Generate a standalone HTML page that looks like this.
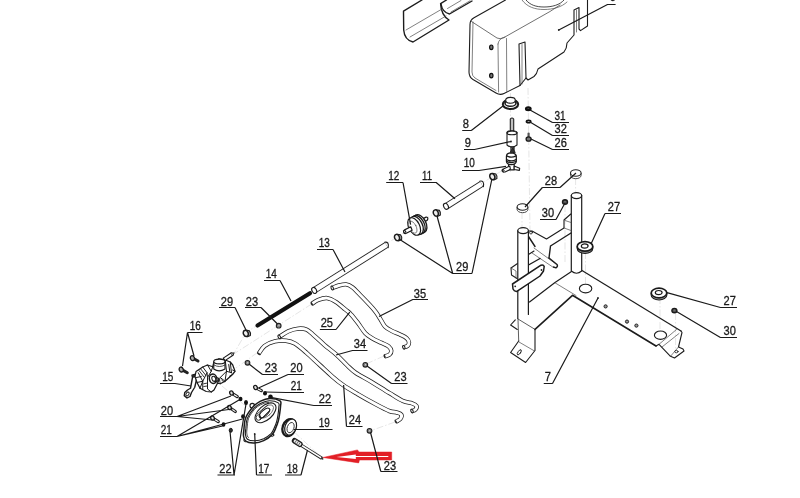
<!DOCTYPE html>
<html><head><meta charset="utf-8"><title>Parts diagram</title>
<style>
html,body{margin:0;padding:0;background:#fff;overflow:hidden}
svg{display:block}
text{font-family:"Liberation Sans",sans-serif;font-size:11.9px;fill:#1a1a1a;stroke:#1a1a1a;stroke-width:0.3px}
.k{fill:none;stroke:#1c1c1c;stroke-width:1.1;stroke-linejoin:round;stroke-linecap:round}
.kw{fill:#fff;stroke:#1c1c1c;stroke-width:1.1;stroke-linejoin:round;stroke-linecap:round}
.t{fill:none;stroke:#4a4a4a;stroke-width:0.7;stroke-linejoin:round;stroke-linecap:round}
.tw{fill:#fff;stroke:#555;stroke-width:0.7;stroke-linejoin:round}
.c{fill:none;stroke:#d4d4d4;stroke-width:0.6;stroke-dasharray:7 2 1.5 2}
.l{fill:none;stroke:#1a1a1a;stroke-width:1.2;stroke-linejoin:round}
.ho{fill:none;stroke:#222;stroke-width:4.4;stroke-linecap:butt;stroke-linejoin:round}
.hi{fill:none;stroke:#fff;stroke-width:2.9;stroke-linecap:butt;stroke-linejoin:round}
</style></head>
<body>
<svg width="800" height="498" viewBox="0 0 800 498">
<rect width="800" height="498" fill="#fff"/>
<!-- centre lines -->
<g id="centrelines">
<path class="c" d="M528,88L530,232"/>
<path class="c" d="M510.5,93V172"/>
<path class="c" d="M503,170L246,332.500L234.500,352.500"/>
<path class="c" d="M311.800,303.900L234.500,353.500"/>
<path class="c" d="M257.5,352.5L236,368"/>
<path class="c" d="M384,356L366,364"/>
<path class="c" d="M395,422L370,431"/>
<path class="c" d="M222,386L262,420L290,428L322,458"/>
<path class="c" d="M575.6,178V194"/>
<path class="c" d="M522,212V228"/>
<path class="c" d="M565,205V262"/>
<path class="c" d="M585.5,252V286"/>
<path class="c" d="M660,297V332"/>
<path class="c" d="M675.6,313V349"/>
</g>

<!-- top-left bracket -->
<g id="bracket">
<path class="k" style="stroke-width:1.4" d="M422,0L403.500,11.200L403.700,30Q404.500,40 413,42L449,20C444,17 441,12 440.600,3.600L446.500,0"/>
<path class="k" style="stroke-width:1.4" d="M441,4C442,10 445,13 449.5,14L472,1"/>
<path class="t" d="M406,30L442,9M410,37L446,16M447.500,8.500L461,0.500M451,12L470,0.800"/>
</g>

<!-- tank 6 -->
<g id="tank">
<path class="k" d="M505.500,0L474,17.800Q470,20 470,24.500L469,72Q469,77 473,79.500L496,93Q500,95.500 504,93.500L520,85.500L526,78L528,80L534,76.500Q537,74 538,69L564,52Q567,48 567,43L574,35L574,10L579,7.500L579,29L580.500,30.600L587.500,26L587.500,0"/>
<path class="k" d="M519,44L520,85.500M519,44L525,42L526,78"/>
<path class="t" style="stroke:#333" d="M471.500,21.500L497,38Q500,39.500 503.500,37.800L550,11.500L560,5"/>
<path class="t" d="M498,44L498.600,92"/>
<path class="t" d="M473,22L472,72Q472,76 475,78L496,90.500"/>
<path class="t" d="M506.500,38.500L506.800,91.500M498,44Q498.500,38.500 505,37"/>
<path class="k" style="stroke-width:0.8" d="M526,0C530,5 536,7 544,7C552,7 560,5 564,0"/>
<path class="t" d="M522,0C527,7 535,9.500 544,9.500C553,9.500 562,7 567,2"/>
<path class="t" d="M522,44.500L522,84M576.500,10L576.500,32"/>
<ellipse cx="491.300" cy="47.300" rx="1.700" ry="2.300" fill="#777" stroke="#111" stroke-width="1.200"/>
<ellipse cx="491.300" cy="75.600" rx="1.700" ry="2.300" fill="#777" stroke="#111" stroke-width="1.200"/>
</g>

<!-- grommet 8 -->
<g id="grommet">
<ellipse class="kw" style="stroke-width:2" cx="510.500" cy="104.300" rx="7.700" ry="4.700"/>
<ellipse class="k" style="stroke-width:1.600" cx="510.500" cy="103.200" rx="5.500" ry="3.100"/>
<ellipse class="kw" cx="510.500" cy="100.300" rx="4.800" ry="2.900"/>
</g>

<!-- washers, screw -->
<ellipse cx="528.300" cy="108.800" rx="2.300" ry="1.400" fill="#888" stroke="#111" stroke-width="2.2"/>
<ellipse cx="528.600" cy="121.500" rx="2.200" ry="1.300" fill="#aaa" stroke="#111" stroke-width="1.600"/>
<g id="screw26">
<path class="k" style="stroke-width:2.2;stroke:#555" d="M528.600,133.500V138"/>
<ellipse cx="528.600" cy="139" rx="2.500" ry="2.200" fill="#777" stroke="#1a1a1a" stroke-width="1.300"/>
</g>

<!-- filter 9 -->
<g id="filter9">
<path class="k" d="M510.300,133V119Q512,117 513.700,119V133"/>
<path class="t" d="M512,118.500V132"/>
<path class="kw" d="M507,132.500V145Q512,149 517,145V132.500Q512,129.500 507,132.500Z"/>
<ellipse class="k" cx="512" cy="132.800" rx="5" ry="2"/>
</g>

<!-- valve 10 -->
<g id="valve10" transform="translate(480,110) scale(0.14065)" fill="none" stroke="#1a1a1a" stroke-linejoin="round" stroke-linecap="round">
<path d="M222,262H243V304H222Z" fill="#444" stroke-width="6"/>
<path d="M214,300L232,272L250,300Z" fill="#333" stroke-width="5"/>
<path d="M203,383H243V426H203Z" fill="#fff" stroke-width="8"/>
<path d="M212,398L166,419Q154,428 160,438Q168,446 178,440L216,422Z" fill="#fff" stroke-width="8"/>
<ellipse cx="164" cy="430" rx="6" ry="10" stroke-width="5" transform="rotate(-30 164 430)"/>
<path d="M243,398L282,414L280,429L243,423Z" fill="#fff" stroke-width="8"/>
<path d="M188,330Q188,306 222,304Q258,306 258,330L258,362Q258,386 222,388Q188,386 188,362Z" fill="#fff" stroke-width="9"/>
<path d="M190,326Q222,344 256,326" stroke-width="9"/>
<path d="M189,352Q222,372 257,352M189,364Q222,384 257,364" stroke-width="9"/>
</g>

<!-- tube 11 -->
<g id="tube11">
<path class="ho" style="stroke-width:6.700" d="M446.200,206.300L481.500,184"/>
<path class="hi" style="stroke-width:4.900" d="M445.700,206.600L481.500,184"/>
<ellipse class="kw" cx="446" cy="206.300" rx="2.200" ry="3.200" transform="rotate(-30 446 206.300)"/>
<path class="k" d="M479.700,181.200Q484.500,180.200 483.400,186.600"/>
</g>

<!-- tube 13 -->
<g id="tube13">
<path class="ho" style="stroke-width:6.600" d="M314.300,290.300L386.300,245"/>
<path class="hi" style="stroke-width:4.800" d="M313.800,290.600L386.300,245"/>
<ellipse class="kw" cx="314.200" cy="290.400" rx="2.200" ry="3.200" transform="rotate(-30 314.200 290.400)"/>
<path class="k" d="M384.600,242.200Q389.300,241.300 388.200,247.600"/>
</g>

<!-- spring 14 -->
<path d="M257.500,325.500L310,293.300" stroke="#111" stroke-width="4.200" stroke-linecap="round" fill="none"/>

<!-- clamps 29 -->
<g id="clamps">
<g transform="translate(492.3,176.6)"><path d="M0.300,-3.300L3.600,-2.600Q5.300,-0.500 4.600,2L1.600,3.400Z" fill="#aaa" stroke="#1c1c1c" stroke-width="1.100" stroke-linejoin="round"/><ellipse cx="0" cy="0" rx="2.400" ry="3.200" fill="#eee" stroke="#1c1c1c" stroke-width="1.500" transform="rotate(-25)"/></g>
<g transform="translate(435.8,213)"><path d="M0.300,-3.300L3.600,-2.600Q5.300,-0.500 4.600,2L1.600,3.400Z" fill="#aaa" stroke="#1c1c1c" stroke-width="1.100" stroke-linejoin="round"/><ellipse cx="0" cy="0" rx="2.400" ry="3.200" fill="#eee" stroke="#1c1c1c" stroke-width="1.500" transform="rotate(-25)"/></g>
<g transform="translate(397,237.5)"><path d="M0.300,-3.300L3.600,-2.600Q5.300,-0.500 4.600,2L1.600,3.400Z" fill="#aaa" stroke="#1c1c1c" stroke-width="1.100" stroke-linejoin="round"/><ellipse cx="0" cy="0" rx="2.400" ry="3.200" fill="#eee" stroke="#1c1c1c" stroke-width="1.500" transform="rotate(-25)"/></g>
<g transform="translate(245.8,333.4)"><path d="M0.300,-3.300L3.600,-2.600Q5.300,-0.500 4.600,2L1.600,3.400Z" fill="#aaa" stroke="#1c1c1c" stroke-width="1.100" stroke-linejoin="round"/><ellipse cx="0" cy="0" rx="2.400" ry="3.200" fill="#eee" stroke="#1c1c1c" stroke-width="1.500" transform="rotate(-25)"/></g>
</g>

<!-- filter 12 -->
<g id="filter12" transform="translate(383.800,165.400) scale(0.17065)" fill="none" stroke="#1a1a1a" stroke-linejoin="round" stroke-linecap="round">
<path fill="#fff" stroke-width="7" d="M222,316L248,303Q258,302 258,313Q257,321 250,324L228,336Z"/>
<ellipse cx="213" cy="342" rx="34" ry="57" fill="#fff" stroke-width="8" transform="rotate(-27 213 342)"/>
<ellipse cx="203" cy="347" rx="34" ry="57" fill="#fff" stroke-width="8" transform="rotate(-27 203 347)"/>
<ellipse cx="192" cy="352" rx="34" ry="57" fill="#fff" stroke-width="8" transform="rotate(-27 192 352)"/>
<ellipse cx="178" cy="358" rx="32" ry="55" fill="#fff" stroke-width="7" transform="rotate(-27 178 358)"/>
<ellipse cx="170" cy="362" rx="20" ry="38" fill="#fff" stroke="#555" stroke-width="4" transform="rotate(-27 170 362)"/>
<path fill="#fff" stroke-width="7" d="M158,360L122,378Q112,386 118,396Q124,402 132,398L166,380Z"/>
<ellipse cx="122" cy="388" rx="6" ry="10" stroke-width="5" transform="rotate(-27 122 388)"/>
</g>

<!-- hoses -->
<g id="hoses">
<path class="ho" d="M332.2,288.0C333.3,287.6 336.6,286.1 338.9,285.5C341.2,284.9 343.9,284.1 346.1,284.4C348.4,284.7 350.1,285.6 352.4,287.3C354.7,289.0 356.8,291.6 359.7,294.5C362.6,297.4 366.9,301.9 369.6,304.8C372.3,307.7 374.1,309.7 375.9,312.1C377.7,314.5 379.0,316.9 380.5,319.3C382.0,321.7 383.1,324.5 385.0,326.5C386.9,328.5 389.6,329.7 392.2,331.1C394.8,332.5 398.0,333.5 400.4,334.7C402.8,335.9 405.3,337.0 406.7,338.3C408.1,339.6 408.9,341.0 409.0,342.3C409.1,343.6 408.5,345.1 407.6,345.9C406.7,346.7 404.4,347.1 403.8,347.3"/>
<path class="hi" d="M332.2,288.0C333.3,287.6 336.6,286.1 338.9,285.5C341.2,284.9 343.9,284.1 346.1,284.4C348.4,284.7 350.1,285.6 352.4,287.3C354.7,289.0 356.8,291.6 359.7,294.5C362.6,297.4 366.9,301.9 369.6,304.8C372.3,307.7 374.1,309.7 375.9,312.1C377.7,314.5 379.0,316.9 380.5,319.3C382.0,321.7 383.1,324.5 385.0,326.5C386.9,328.5 389.6,329.7 392.2,331.1C394.8,332.5 398.0,333.5 400.4,334.7C402.8,335.9 405.3,337.0 406.7,338.3C408.1,339.6 408.9,341.0 409.0,342.3C409.1,343.6 408.5,345.1 407.6,345.9C406.7,346.7 404.4,347.1 403.8,347.3"/>
<path class="ho" d="M311.8,303.9C312.9,303.2 315.6,301.0 318.1,300.0C320.7,299.0 324.1,297.8 327.1,298.1C330.1,298.5 333.2,300.2 336.2,302.1C339.2,304.0 342.8,307.4 345.2,309.4C347.6,311.4 348.5,311.6 350.6,313.9C352.7,316.1 355.5,319.7 357.9,322.9C360.3,326.1 362.7,330.3 365.1,332.9C367.5,335.5 369.6,336.6 372.3,338.3C375.0,340.0 378.7,341.5 381.4,342.8C384.1,344.1 387.0,345.0 388.6,346.4C390.2,347.8 391.2,349.5 391.3,350.9C391.4,352.3 390.6,353.7 389.5,354.6C388.4,355.5 385.4,356.1 384.6,356.4"/>
<path class="hi" d="M311.8,303.9C312.9,303.2 315.6,301.0 318.1,300.0C320.7,299.0 324.1,297.8 327.1,298.1C330.1,298.5 333.2,300.2 336.2,302.1C339.2,304.0 342.8,307.4 345.2,309.4C347.6,311.4 348.5,311.6 350.6,313.9C352.7,316.1 355.5,319.7 357.9,322.9C360.3,326.1 362.7,330.3 365.1,332.9C367.5,335.5 369.6,336.6 372.3,338.3C375.0,340.0 378.7,341.5 381.4,342.8C384.1,344.1 387.0,345.0 388.6,346.4C390.2,347.8 391.2,349.5 391.3,350.9C391.4,352.3 390.6,353.7 389.5,354.6C388.4,355.5 385.4,356.1 384.6,356.4"/>
<path class="ho" d="M279.3,336.9C280.8,336.0 285.1,332.7 288.3,331.3C291.5,329.9 295.4,328.9 298.4,328.6C301.4,328.3 303.9,328.5 306.3,329.5C308.7,330.5 310.0,332.1 313.0,334.6C316.0,337.2 320.4,341.4 324.3,344.8C328.2,348.2 332.9,351.5 336.6,354.9C340.4,358.3 343.6,362.0 346.8,365.0C350.0,368.0 351.7,370.1 355.8,372.9C359.9,375.7 365.9,378.5 371.5,381.9C377.1,385.3 384.2,389.9 389.5,393.1C394.8,396.3 399.2,399.3 403.0,401.0C406.8,402.7 409.8,402.5 412.0,403.3C414.2,404.1 415.9,404.9 416.5,406.0C417.1,407.1 416.1,408.8 415.4,409.6C414.6,410.5 412.6,410.9 412.0,411.1"/>
<path class="hi" d="M279.3,336.9C280.8,336.0 285.1,332.7 288.3,331.3C291.5,329.9 295.4,328.9 298.4,328.6C301.4,328.3 303.9,328.5 306.3,329.5C308.7,330.5 310.0,332.1 313.0,334.6C316.0,337.2 320.4,341.4 324.3,344.8C328.2,348.2 332.9,351.5 336.6,354.9C340.4,358.3 343.6,362.0 346.8,365.0C350.0,368.0 351.7,370.1 355.8,372.9C359.9,375.7 365.9,378.5 371.5,381.9C377.1,385.3 384.2,389.9 389.5,393.1C394.8,396.3 399.2,399.3 403.0,401.0C406.8,402.7 409.8,402.5 412.0,403.3C414.2,404.1 415.9,404.9 416.5,406.0C417.1,407.1 416.1,408.8 415.4,409.6C414.6,410.5 412.6,410.9 412.0,411.1"/>
<path class="ho" d="M258.6,353.8C259.6,352.5 261.9,348.0 264.6,345.9C267.3,343.8 271.2,342.3 274.8,341.4C278.4,340.5 282.6,340.3 286.0,340.7C289.4,341.1 291.6,341.6 295.0,343.6C298.4,345.6 302.2,349.0 306.3,352.6C310.4,356.2 315.5,361.1 319.8,365.0C324.1,368.9 328.2,372.9 332.1,376.3C336.0,379.7 339.1,382.3 343.4,385.3C347.7,388.3 352.6,391.1 358.0,394.3C363.4,397.5 370.8,401.6 376.0,404.4C381.2,407.2 386.1,409.8 389.5,411.1C392.9,412.4 394.4,411.7 396.3,412.3C398.2,412.9 400.5,413.4 401.2,414.5C401.9,415.6 401.2,417.8 400.3,419.0C399.4,420.2 396.6,421.2 395.8,421.7"/>
<path class="hi" d="M258.6,353.8C259.6,352.5 261.9,348.0 264.6,345.9C267.3,343.8 271.2,342.3 274.8,341.4C278.4,340.5 282.6,340.3 286.0,340.7C289.4,341.1 291.6,341.6 295.0,343.6C298.4,345.6 302.2,349.0 306.3,352.6C310.4,356.2 315.5,361.1 319.8,365.0C324.1,368.9 328.2,372.9 332.1,376.3C336.0,379.7 339.1,382.3 343.4,385.3C347.7,388.3 352.6,391.1 358.0,394.3C363.4,397.5 370.8,401.6 376.0,404.4C381.2,407.2 386.1,409.8 389.5,411.1C392.9,412.4 394.4,411.7 396.3,412.3C398.2,412.9 400.5,413.4 401.2,414.5C401.9,415.6 401.2,417.8 400.3,419.0C399.4,420.2 396.6,421.2 395.8,421.7"/>
<ellipse class="kw" cx="332.2" cy="288.0" rx="1.100" ry="2" transform="rotate(-20 332.2 288.0)"/>
<ellipse class="kw" cx="403.8" cy="347.3" rx="1.100" ry="1.900" transform="rotate(-20 403.8 347.3)"/>
<ellipse class="kw" cx="279.3" cy="336.9" rx="1.100" ry="2" transform="rotate(-32 279.3 336.9)"/>
<ellipse class="kw" cx="412.0" cy="411.1" rx="1.100" ry="1.900" transform="rotate(-24 412.0 411.1)"/>
<ellipse cx="311.8" cy="303.9" rx="0.900" ry="2" fill="#222" transform="rotate(-32 311.8 303.9)"/>
<ellipse cx="384.6" cy="356.4" rx="0.900" ry="2" fill="#222" transform="rotate(-20 384.6 356.4)"/>
<ellipse cx="258.6" cy="353.8" rx="0.900" ry="2" fill="#222" transform="rotate(-53 258.6 353.8)"/>
<ellipse cx="395.8" cy="421.7" rx="0.900" ry="2" fill="#222" transform="rotate(-31 395.8 421.7)"/>
</g>

<!-- nuts 23 -->
<g id="nuts23">
<g transform="translate(278.700,325.700)"><ellipse cx="0" cy="0" rx="2.300" ry="2.300" fill="#999" stroke="#222" stroke-width="1.200"/><ellipse cx="0.300" cy="0" rx="0.900" ry="1.100" fill="#fff" stroke="#333" stroke-width="0.500"/></g>
<g transform="translate(247.500,362.800)"><ellipse cx="0" cy="0" rx="2.300" ry="2.300" fill="#999" stroke="#222" stroke-width="1.200"/><ellipse cx="0.300" cy="0" rx="0.900" ry="1.100" fill="#fff" stroke="#333" stroke-width="0.500"/></g>
<g transform="translate(365.300,364.800)"><ellipse cx="0" cy="0" rx="2.300" ry="2.300" fill="#999" stroke="#222" stroke-width="1.200"/><ellipse cx="0.300" cy="0" rx="0.900" ry="1.100" fill="#fff" stroke="#333" stroke-width="0.500"/></g>
<g transform="translate(369.500,430.800)"><ellipse cx="0" cy="0" rx="2.300" ry="2.300" fill="#999" stroke="#222" stroke-width="1.200"/><ellipse cx="0.300" cy="0" rx="0.900" ry="1.100" fill="#fff" stroke="#333" stroke-width="0.500"/></g>
</g>

<!-- screws 20 / washers 21,22 -->
<g id="screws20">
<g transform="translate(255.500,387.500)"><path d="M0,0L5.800,3.200" stroke="#1a1a1a" stroke-width="3.100" stroke-linecap="round" fill="none"/><path d="M2.600,1.500L5.600,3.100" stroke="#fff" stroke-width="1.100" stroke-linecap="round" fill="none"/><ellipse cx="0" cy="0" rx="1.700" ry="2.200" fill="#ddd" stroke="#1a1a1a" stroke-width="1.300" transform="rotate(-25)"/></g>
<g transform="translate(231.500,393)"><path d="M0,0L5.800,3.600" stroke="#1a1a1a" stroke-width="3.100" stroke-linecap="round" fill="none"/><path d="M2.600,1.700L5.600,3.500" stroke="#fff" stroke-width="1.100" stroke-linecap="round" fill="none"/><ellipse cx="0" cy="0" rx="1.700" ry="2.200" fill="#ddd" stroke="#1a1a1a" stroke-width="1.300" transform="rotate(-25)"/></g>
<g transform="translate(229.500,407.500)"><path d="M0,0L5.800,4" stroke="#1a1a1a" stroke-width="3.100" stroke-linecap="round" fill="none"/><path d="M2.600,1.800L5.600,3.900" stroke="#fff" stroke-width="1.100" stroke-linecap="round" fill="none"/><ellipse cx="0" cy="0" rx="1.700" ry="2.200" fill="#ddd" stroke="#1a1a1a" stroke-width="1.300" transform="rotate(-25)"/></g>
<g transform="translate(212.500,418)"><path d="M0,0L5.800,3.600" stroke="#1a1a1a" stroke-width="3.100" stroke-linecap="round" fill="none"/><path d="M2.600,1.700L5.600,3.500" stroke="#fff" stroke-width="1.100" stroke-linecap="round" fill="none"/><ellipse cx="0" cy="0" rx="1.700" ry="2.200" fill="#ddd" stroke="#1a1a1a" stroke-width="1.300" transform="rotate(-25)"/></g>
<ellipse cx="265" cy="393.200" rx="2" ry="2.200" fill="#111"/>
<ellipse cx="270.500" cy="397" rx="2.300" ry="2.600" fill="#111"/>
<ellipse cx="240.500" cy="399" rx="2" ry="2.200" fill="#111"/>
<ellipse cx="246" cy="402.500" rx="2" ry="2.600" fill="#111"/>
<ellipse cx="243" cy="416.500" rx="1.900" ry="2.200" fill="#111"/>
<ellipse cx="223.500" cy="424.500" rx="1.900" ry="2.200" fill="#111"/>
<ellipse cx="230.800" cy="430.300" rx="1.600" ry="2" fill="#333" stroke="#111" stroke-width="0.9"/>
</g>

<!-- cover 17 -->
<g id="cover17">
<circle class="kw" cx="252.300" cy="405.700" r="2.300"/>
<circle class="kw" style="stroke-width:0.9" cx="272.300" cy="435" r="1.500"/>
<circle class="kw" style="stroke-width:0.9" cx="245.300" cy="440.300" r="1.500"/>
<path class="kw" style="stroke-width:1.500" d="M269.8,398.4C273.1,398.3 278.2,399.6 280.0,400.8C281.8,402.0 280.7,403.5 280.6,405.7C280.5,407.9 280.0,411.5 279.6,414.1C279.2,416.7 278.9,418.9 278.2,421.3C277.5,423.7 276.5,426.3 275.5,428.6C274.5,430.8 274.1,432.6 272.2,434.6C270.2,436.6 266.7,439.2 263.7,440.6C260.7,442.0 257.1,442.9 254.1,443.0C251.1,443.1 247.4,442.4 245.7,441.2C243.9,440.0 243.8,437.7 243.5,435.8C243.2,433.9 243.5,432.8 243.9,429.8C244.2,426.7 244.2,421.5 245.7,417.7C247.2,413.9 250.5,409.6 252.9,406.9C255.3,404.2 257.3,402.9 260.1,401.4C262.9,400.0 266.4,398.5 269.8,398.4Z"/>
<path class="k" style="stroke-width:1.100" d="M269.1,400.7C272.1,400.6 276.7,401.8 278.3,402.9C279.9,404.0 278.9,405.2 278.8,407.2C278.8,409.2 278.3,412.5 278.0,414.8C277.6,417.2 277.3,419.2 276.7,421.3C276.1,423.5 275.2,425.8 274.3,427.8C273.4,429.8 273.0,431.4 271.3,433.3C269.5,435.1 266.4,437.4 263.7,438.7C261.0,439.9 257.7,440.8 255.0,440.8C252.3,440.9 249.0,440.3 247.4,439.2C245.8,438.1 245.7,436.1 245.4,434.3C245.2,432.6 245.4,431.6 245.8,428.9C246.1,426.2 246.0,421.5 247.4,418.1C248.8,414.6 251.7,410.8 253.9,408.3C256.1,405.9 257.9,404.7 260.4,403.4C262.9,402.2 266.1,400.800 269.1,400.7Z"/>
<path class="k" style="stroke-width:0.8" d="M268.6,402.3C265.9,402.4 262.9,403.7 260.6,404.8C258.3,406 256.6,407.1 254.6,409.3C252.6,411.6 249.9,415.2 248.6,418.3C247.4,421.5 247.4,425.8 247.1,428.3C246.8,430.8 246.6,431.7 246.8,433.3C247.1,434.9 247.1,436.8 248.6,437.8"/>
<ellipse class="k" style="stroke-width:1.100" cx="265.500" cy="412.800" rx="7" ry="12.600" transform="rotate(48 265.500 412.800)"/>
<ellipse class="t" style="stroke:#444" cx="266.500" cy="411.500" rx="4.500" ry="8.500" transform="rotate(48 266.500 411.500)"/>
<ellipse class="k" style="stroke-width:1.100" cx="264.500" cy="413" rx="2.800" ry="6.500" transform="rotate(48 264.500 413)"/>
<ellipse class="k" style="stroke-width:0.8" cx="258.500" cy="417.500" rx="2.300" ry="2.800"/>
<path class="k" style="stroke-width:0.8" d="M257,414L268,405M260,420L270,410"/>
</g>

<!-- gear 19 -->
<g id="gear19">
<ellipse cx="289" cy="427.600" rx="6.300" ry="8.800" fill="#fff" stroke="#1a1a1a" stroke-width="2.300" transform="rotate(20 289 427.600)"/>
<ellipse cx="290.600" cy="427.100" rx="5.600" ry="8.300" fill="#fff" stroke="#1a1a1a" stroke-width="1.200" transform="rotate(20 290.600 427.100)"/>
<ellipse cx="290.600" cy="427.600" rx="3.300" ry="5.300" fill="none" stroke="#333" stroke-width="0.900" transform="rotate(20 290.600 427.600)"/>
</g>

<!-- shaft 18 -->
<g id="shaft18">
<path d="M299,443.800L322,458.300" stroke="#1a1a1a" stroke-width="3.200" fill="none"/>
<path d="M299,443.800L321.400,457.900" stroke="#fff" stroke-width="1.600" fill="none"/>
<path d="M294.600,440.800L299.800,444.200" stroke="#1a1a1a" stroke-width="5.600" stroke-linecap="round" fill="none"/>
<path d="M295.200,441.200L299.800,444.200" stroke="#e8e8e8" stroke-width="3.200" stroke-linecap="round" fill="none"/><path d="M294.500,443.300L297,439.600M296.300,444.500L298.800,440.800M298.100,445.700L300.600,442" stroke="#333" stroke-width="0.700" fill="none"/>
<ellipse cx="322.300" cy="458.400" rx="0.900" ry="1.500" fill="#333" transform="rotate(-30 322.300 458.400)"/>
</g>

<!-- red arrow -->
<path d="M322.800,457.500L357.500,449.900L359,452L391.700,452L391.700,460L359.500,460L358.700,462.900Z" fill="#e21f26" stroke="#e21f26" stroke-width="0.500" stroke-linejoin="round"/>
<path d="M336.500,457L355.800,454.400L355.800,456L388.300,456L388.300,457.100L355.800,457.100L355.800,459Z" fill="#fff"/>

<!-- bolts 16 -->
<g id="bolts16">
<g transform="translate(193,358.200)"><path d="M0,0L5,2.800" stroke="#222" stroke-width="3" stroke-linecap="round" fill="none"/><ellipse cx="-0.500" cy="-0.300" rx="2" ry="2.500" fill="#aaa" stroke="#1a1a1a" stroke-width="1.300" transform="rotate(-25)"/></g>
<g transform="translate(181.800,369.600)"><path d="M0,0L5.500,3.200" stroke="#222" stroke-width="3" stroke-linecap="round" fill="none"/><ellipse cx="-0.500" cy="-0.300" rx="2" ry="2.500" fill="#aaa" stroke="#1a1a1a" stroke-width="1.300" transform="rotate(-25)"/></g>
</g>

<!-- pump 15 -->
<g id="pump15" transform="translate(170,340) scale(0.125)" fill="none" stroke="#1a1a1a" stroke-linejoin="round" stroke-linecap="round">
<!-- lever -->
<path fill="#fff" stroke-width="11" d="M176,282L204,274L216,300L198,378L172,420L160,452L136,464L114,446L118,420L140,400L164,386L180,300Z"/>
<ellipse cx="140" cy="432" rx="11" ry="17" stroke-width="8" transform="rotate(35 140 432)"/>
<circle cx="191" cy="290" r="9" fill="#333" stroke-width="6"/>
<!-- body -->
<path fill="#fff" stroke-width="10" d="M208,252L262,216L300,200L342,214L350,182L392,150L442,160L482,176L502,200L520,250L500,276L440,330L402,350L380,346L352,400L330,416L290,412L240,386L216,340L200,292Z"/>
<path stroke-width="8" d="M262,216L296,262L300,300L300,392L330,416M300,200L330,250L300,300M342,214L330,250M216,340L262,330L296,262M226,262L262,330L262,396M240,386L262,330M212,300L250,292"/>
<path stroke-width="7" d="M232,244L272,296M246,232L286,282M270,350L296,345M270,372L298,368"/>
<!-- right block -->
<path stroke-width="8" d="M442,160L452,250L402,300L380,346M482,176L492,262M452,250L492,262M452,250L440,330M402,300L440,330M470,196L478,252M500,276L476,290"/>
<path stroke-width="7" d="M402,350L396,318L370,330M412,318L430,336M500,240L520,250"/>
<!-- cylinder -->
<path fill="#fff" stroke-width="9" d="M350,172L350,232Q392,262 440,232L440,172Z"/>
<ellipse cx="395" cy="172" rx="45" ry="19" fill="#fff" stroke-width="9"/>
<path stroke-width="6" d="M352,200Q394,226 440,200"/>
<!-- nozzle -->
<path fill="#fff" stroke-width="9" d="M426,145L491,102Q504,100 507,112Q508,118 504,122L440,165Z"/><path stroke-width="6" d="M486,106Q496,110 498,124"/>
<circle cx="511" cy="104" r="6" fill="#222" stroke="none"/>
<!-- shaft -->
<ellipse cx="345" cy="310" rx="30" ry="38" fill="#fff" stroke-width="12" transform="rotate(-15 345 310)"/>
<ellipse cx="350" cy="310" rx="15" ry="21" fill="#fff" stroke-width="8" transform="rotate(-15 350 310)"/>
<path stroke-width="8" d="M356,294L388,306M352,330L384,336M388,306Q394,320 384,336"/>
</g>

<!-- frame 7 -->
<g id="frame7">
<!-- plate -->
<path class="k" style="stroke-width:1.200" d="M582,270.500L681,331"/>
<path class="k" style="stroke-width:1.200" d="M571.500,271.500L555,282.500L529.500,302"/>
<path class="k" style="stroke-width:1.600" d="M535,329.400L572.500,295.300L656,346"/>
<path class="t" d="M555,282.800L576,295.500"/>
<ellipse class="k" style="stroke-width:1.100" cx="585.600" cy="288.600" rx="6.200" ry="4.300"/>
<ellipse class="k" style="stroke-width:1.100" cx="660.500" cy="335.200" rx="6.100" ry="4.200"/>
<circle cx="605.600" cy="306.400" r="1.600" fill="#999" stroke="#222" stroke-width="1"/>
<circle cx="627" cy="321.600" r="1.600" fill="#999" stroke="#222" stroke-width="1"/>
<circle cx="636.400" cy="325.600" r="1.600" fill="#999" stroke="#222" stroke-width="1"/>
<!-- right foot -->
<path class="k" d="M656,346L659,344.300L670.500,356.300L674.500,358L684,351L683,349L678.500,347L682,332.500L681,331"/>
<path class="t" d="M659,344.300L676.500,329.500M662,347L679,333.500M670.500,356.300L678.500,347"/>
<ellipse class="k" style="stroke-width:0.8" cx="676.400" cy="351.600" rx="1.700" ry="1.200"/>
<!-- left leg + foot -->
<path class="k" d="M535,329.400L535,350.500L525.600,362.500L510.600,352.500L518.700,341"/><path class="t" style="stroke:#333;stroke-width:0.8" d="M518,319L535,329.400M518.700,341L518,319"/>
<path class="t" d="M519,342L534.500,351"/>
<path class="k" d="M515.300,319.800L510.600,325L517.300,329.500"/>
<ellipse class="k" style="stroke-width:0.9" cx="519.300" cy="352.300" rx="1.300" ry="3" transform="rotate(35 519.300 352.300)"/>
<!-- tall right tube -->
<path class="kw" style="stroke-width:1.200" d="M571.300,195.600V271Q576.500,275.500 581.700,271V195.600Z"/>
<ellipse class="kw" style="stroke-width:1.200" cx="576.500" cy="195.600" rx="5.200" ry="3"/>
<!-- top bracket -->
<path class="k" d="M527.500,231L532,231L546.500,239L564,228V220L570.800,214"/>
<path class="k" style="stroke-width:1.400" d="M527.500,235L535,246.500M550.500,246L571,233M550.500,246L549,258"/>
<path class="t" d="M564,228L571,230.500M565,220.500L571,222.500"/>
<circle class="k" style="stroke-width:0.8" cx="531" cy="232.600" r="1.400"/>
<!-- upper flat bar -->
<path class="t" d="M534,248L556,264M532,253L553.500,267.500"/>
<path class="k" style="stroke-width:1.400" d="M549,258L557,264.500Q558.300,266.500 556,267.800L553.500,267"/>
<path class="k" d="M528.500,254.500L534,251"/>
<path class="k" style="stroke-width:1.400" d="M528.500,265L540,258.500"/>
<!-- block behind left tube -->
<path class="k" d="M517.500,263.500L511,268L511.500,275L517,278.500"/>
<path class="t" d="M511,268L516,271V278"/>
<!-- left tube -->
<path d="M517.800,230.600V318.500L528.400,314.500V230.600Z" fill="#fff" stroke="none"/>
<path class="k" style="stroke-width:1.200" d="M517.800,230.600V318.500M528.400,314.500V230.600"/>
<ellipse class="kw" style="stroke-width:1.200" cx="523.100" cy="230.600" rx="5.300" ry="3"/>
<!-- lower flat bar (in front) -->
<path class="kw" style="stroke-width:1.500" d="M512.500,284L541,265.200Q543.500,264.500 544.200,266.500L543.500,271L540,276L516.500,291.600Q514,291 513,289Z"/>
<circle cx="541.500" cy="270" r="0.900" fill="#222"/>
<circle cx="515.200" cy="286.300" r="0.900" fill="#222"/>
</g>

<!-- washers 27 -->
<g id="washers27">
<g transform="translate(585,246.400)"><path d="M-7.800,0V2.200A7.800,4.800 0 0 0 7.800,2.200V0" fill="#aaa" stroke="#1a1a1a" stroke-width="1.100"/><ellipse cx="0" cy="0" rx="7.800" ry="4.800" fill="#fff" stroke="#1a1a1a" stroke-width="1.700"/><ellipse cx="-0.300" cy="-0.400" rx="3.400" ry="2.100" fill="#fff" stroke="#1a1a1a" stroke-width="1.200"/></g>
<g transform="translate(659,293)"><path d="M-7.800,0V2.200A7.800,4.800 0 0 0 7.800,2.200V0" fill="#aaa" stroke="#1a1a1a" stroke-width="1.100"/><ellipse cx="0" cy="0" rx="7.800" ry="4.800" fill="#fff" stroke="#1a1a1a" stroke-width="1.700"/><ellipse cx="-0.300" cy="-0.400" rx="3.400" ry="2.100" fill="#fff" stroke="#1a1a1a" stroke-width="1.200"/></g>
</g>

<!-- caps 28 -->
<g id="caps28">
<g transform="translate(575.800,173)"><path d="M-5.300,0V2.400A5.300,3.300 0 0 0 5.300,2.400V0" fill="#fff" stroke="#333" stroke-width="0.9"/><ellipse cx="0" cy="0" rx="5.300" ry="3.300" fill="#fff" stroke="#222" stroke-width="1.100"/></g>
<g transform="translate(522.500,207)"><path d="M-5.400,0V2.400A5.400,3.300 0 0 0 5.400,2.400V0" fill="#fff" stroke="#333" stroke-width="0.9"/><ellipse cx="0" cy="0" rx="5.400" ry="3.300" fill="#fff" stroke="#222" stroke-width="1.100"/></g>
</g>

<!-- nuts 30 -->
<ellipse cx="565" cy="202" rx="2.500" ry="2.200" fill="#555" stroke="#1a1a1a" stroke-width="1.400"/>
<ellipse cx="565" cy="201.600" rx="0.800" ry="0.500" fill="#777"/>
<ellipse cx="674.400" cy="310.600" rx="2.500" ry="2.200" fill="#555" stroke="#1a1a1a" stroke-width="1.400"/>
<ellipse cx="674.400" cy="310.200" rx="0.800" ry="0.500" fill="#777"/>

<g id="labels" style="filter:grayscale(1)">
<text x="609.5" y="0.9" textLength="6.2" lengthAdjust="spacingAndGlyphs">6</text>
<path class="l" d="M607.5,4.5H615.6M607.5,4.5L558.75,30"/>
<circle cx="558.75" cy="30" r="0.9" fill="#222"/>
<text x="462.8" y="128.2" textLength="6.2" lengthAdjust="spacingAndGlyphs">8</text>
<path class="l" d="M462.2,130.5H471.3M471.3,130.5L503,106"/>
<text x="464.8" y="146.8" textLength="6.2" lengthAdjust="spacingAndGlyphs">9</text>
<path class="l" d="M464,149.5H474.5M474.5,149.5L511,141.5"/>
<circle cx="511" cy="141.5" r="0.9" fill="#222"/>
<text x="463.8" y="167.3" textLength="11.1" lengthAdjust="spacingAndGlyphs">10</text>
<path class="l" d="M462,170.5H479M479,170.5L506,166.3"/>
<text x="554.5" y="119.6" textLength="11.1" lengthAdjust="spacingAndGlyphs">31</text>
<path class="l" d="M552.5,122.5H569M552.5,122.5L530,110"/>
<text x="554.5" y="133.0" textLength="12.3" lengthAdjust="spacingAndGlyphs">32</text>
<path class="l" d="M552.5,135.5H569M552.5,135.5L530,122"/>
<text x="554.5" y="146.9" textLength="12.3" lengthAdjust="spacingAndGlyphs">26</text>
<path class="l" d="M552.5,149.5H569M552.5,149.5L531,139"/>
<text x="422.1" y="179.8" textLength="9.9" lengthAdjust="spacingAndGlyphs">11</text>
<path class="l" d="M420,182.5H436.2M436.2,182.5L455,198.7"/>
<text x="388.3" y="179.8" textLength="11.1" lengthAdjust="spacingAndGlyphs">12</text>
<path class="l" d="M386.2,182.5H403M403,182.5L410.6,224.7"/>
<text x="318.8" y="246.8" textLength="11.1" lengthAdjust="spacingAndGlyphs">13</text>
<path class="l" d="M317,249.5H333M333,249.5L345,272"/>
<text x="265.8" y="278.1" textLength="11.1" lengthAdjust="spacingAndGlyphs">14</text>
<path class="l" d="M264,280.5H280M280,280.5L291,301"/>
<text x="456.0" y="271.4" textLength="12.3" lengthAdjust="spacingAndGlyphs">29</text>
<path class="l" d="M452.7,273.5H472M452.7,273.5L399,239M452.7,273.5L437,216M472,273.5L491.8,179.5"/>
<text x="413.8" y="297.6" textLength="12.3" lengthAdjust="spacingAndGlyphs">35</text>
<path class="l" d="M412.8,299.5H428M412.8,299.5L379,316.5"/>
<text x="320.7" y="326.9" textLength="12.3" lengthAdjust="spacingAndGlyphs">25</text>
<path class="l" d="M319.9,329.5H336M336,329.5L349.8,312.2"/>
<text x="353.8" y="348.1" textLength="12.3" lengthAdjust="spacingAndGlyphs">34</text>
<path class="l" d="M352.5,350.5H367.5M352.5,350.5L336,355"/>
<text x="348.8" y="424.4" textLength="12.3" lengthAdjust="spacingAndGlyphs">24</text>
<path class="l" d="M346.5,426.5H362.5M346.5,426.5L343.6,385"/>
<text x="245.8" y="305.6" textLength="12.3" lengthAdjust="spacingAndGlyphs">23</text>
<path class="l" d="M245,307.5H261M261,307.5L277.5,324"/>
<text x="220.8" y="305.6" textLength="12.3" lengthAdjust="spacingAndGlyphs">29</text>
<path class="l" d="M219,307.5H235M235,307.5L246,330"/>
<text x="189.8" y="329.6" textLength="11.1" lengthAdjust="spacingAndGlyphs">16</text>
<path class="l" d="M187.5,332.5H202.5M187.5,332.5L182.5,366M187.5,332.5L194,356"/>
<text x="162.3" y="381.4" textLength="11.1" lengthAdjust="spacingAndGlyphs">15</text>
<path class="l" d="M160,383.5H175M175,383.5L191,386"/>
<text x="160.8" y="414.7" textLength="12.3" lengthAdjust="spacingAndGlyphs">20</text>
<path class="l" d="M160,416.5H177M177,416.5L231,396M177,416.5L232.5,409M177,416.5L212.5,420"/>
<text x="160.8" y="433.9" textLength="11.1" lengthAdjust="spacingAndGlyphs">21</text>
<path class="l" d="M160,436.5H177M177,436.5L239,400M177,436.5L242.5,419M177,436.5L222.5,426"/>
<text x="219.3" y="473.1" textLength="12.3" lengthAdjust="spacingAndGlyphs">22</text>
<path class="l" d="M217.5,475H235M234,475L230,431M234,475L246,404"/>
<text x="258.3" y="473.1" textLength="11.1" lengthAdjust="spacingAndGlyphs">17</text>
<path class="l" d="M256.5,475H272M256.5,475L254.7,434"/>
<circle cx="254.7" cy="434" r="0.9" fill="#222"/>
<text x="286.8" y="473.1" textLength="11.1" lengthAdjust="spacingAndGlyphs">18</text>
<path class="l" d="M285,475H301M301,475L307.5,450"/>
<text x="318.8" y="426.6" textLength="11.1" lengthAdjust="spacingAndGlyphs">19</text>
<path class="l" d="M316,429.5H332.5M316,429.5L294,429.5"/>
<text x="318.8" y="402.9" textLength="12.3" lengthAdjust="spacingAndGlyphs">22</text>
<path class="l" d="M313.7,405.5H332M313.7,405.5L272,397.7"/>
<text x="290.8" y="390.1" textLength="11.1" lengthAdjust="spacingAndGlyphs">21</text>
<path class="l" d="M286,392.5H304M286,392.5L265,392"/>
<text x="290.3" y="372.1" textLength="12.3" lengthAdjust="spacingAndGlyphs">20</text>
<path class="l" d="M288,374.5H304M288,374.5L259,387.7"/>
<text x="264.8" y="372.1" textLength="12.3" lengthAdjust="spacingAndGlyphs">23</text>
<path class="l" d="M262.5,374.5H278M262.5,374.5L249,364"/>
<text x="394.3" y="380.6" textLength="12.3" lengthAdjust="spacingAndGlyphs">23</text>
<path class="l" d="M391.5,383.5H407.5M391.5,383.5L367,366"/>
<text x="383.8" y="469.6" textLength="12.3" lengthAdjust="spacingAndGlyphs">23</text>
<path class="l" d="M380.8,471.5H397.5M380.8,471.5L370.5,432.5"/>
<text x="544.8" y="185.2" textLength="12.3" lengthAdjust="spacingAndGlyphs">28</text>
<path class="l" d="M542.4,187.5H560M560,187.5L576,173M542.4,187.5L525,207"/>
<text x="541.8" y="217.2" textLength="12.3" lengthAdjust="spacingAndGlyphs">30</text>
<path class="l" d="M540,219.5H556M556,219.5L565,203"/>
<text x="607.8" y="210.6" textLength="12.3" lengthAdjust="spacingAndGlyphs">27</text>
<path class="l" d="M605,213.5H621M605,213.5L591,244"/>
<text x="723.5" y="305.2" textLength="12.3" lengthAdjust="spacingAndGlyphs">27</text>
<path class="l" d="M720.4,307.5H737M720.4,307.5L667,292.6"/>
<text x="723.5" y="334.9" textLength="12.3" lengthAdjust="spacingAndGlyphs">30</text>
<path class="l" d="M720.4,337.5H737M720.4,337.5L676.5,311.6"/>
<text x="544.8" y="381.2" textLength="6.2" lengthAdjust="spacingAndGlyphs">7</text>
<path class="l" d="M543.75,383.5H552.5M552.5,383.5L598,298"/>
<circle cx="598" cy="298" r="0.9" fill="#222"/>
</g>
</svg>
</body></html>
